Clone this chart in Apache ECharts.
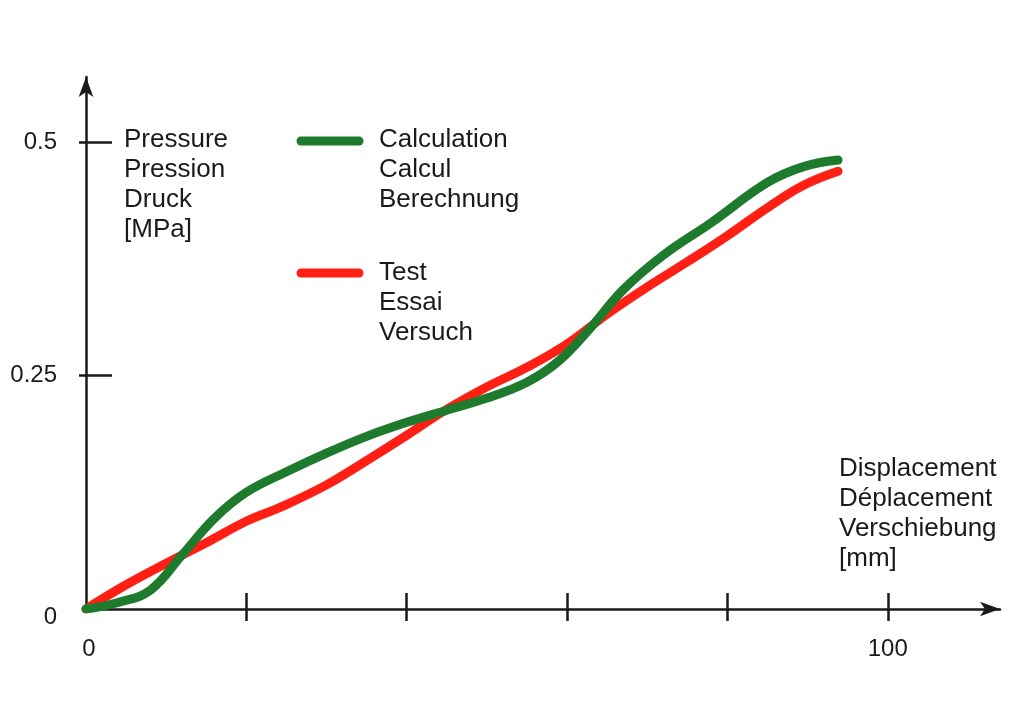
<!DOCTYPE html>
<html>
<head>
<meta charset="utf-8">
<script src="https://cdn.jsdelivr.net/npm/echarts@6/dist/echarts.min.js"></script>
<style>
  html, body { margin: 0; padding: 0; background: #fff; }
  #chart { width: 1024px; height: 712px; }
</style>
</head>
<body>
<div id="chart"></div>
<script>
// Calculation (green) curve, displacement [mm] / pressure [MPa]
var calcX = [0, 4, 8, 12, 16, 20, 25, 30, 35, 40, 45, 50, 55, 59, 63, 67, 72, 78, 85, 89.5, 93.8];
var calcY = [0, 0.007, 0.020, 0.058, 0.097, 0.125, 0.147, 0.167, 0.185, 0.200, 0.213, 0.226, 0.243, 0.266, 0.302, 0.342, 0.379, 0.414, 0.457, 0.474, 0.481];

// Test (red) curve
var testX = [0, 5, 10, 15, 20, 24.5, 30, 35, 40, 45, 50, 55, 60, 65, 70, 75, 80, 85, 89.5, 93.8];
var testY = [0, 0.026, 0.049, 0.071, 0.094, 0.110, 0.133, 0.159, 0.186, 0.214, 0.238, 0.259, 0.284, 0.316, 0.345, 0.372, 0.400, 0.430, 0.454, 0.469];

var xTicks = [20, 40, 60, 80, 100];
var xLabels = [0, 100];
var yTicks = [0.25, 0.5];
var yLabels = [0, 0.25, 0.5];

var yTitle = ['Pressure', 'Pression', 'Druck', '[MPa]'];
var xTitle = ['Displacement', 'Déplacement', 'Verschiebung', '[mm]'];
var calcName = ['Calculation', 'Calcul', 'Berechnung'];
var testName = ['Test', 'Essai', 'Versuch'];

var GREEN = '#1e7a2c';
var RED = '#ff1f14';
var INK = '#1a1a1a';
var FONT = '"Liberation Sans", Arial, sans-serif';

function pairs(xs, ys) {
    var out = [];
    for (var i = 0; i < xs.length; i++) out.push([xs[i], ys[i]]);
    return out;
}

var chart = echarts.init(document.getElementById('chart'));

var xBase = {type: 'value', min: 0, max: 114, position: 'bottom', splitLine: {show: false}};
var yBase = {type: 'value', min: 0, max: 0.57, position: 'left', splitLine: {show: false}};

chart.setOption({
    backgroundColor: '#fff',
    animation: false,
    textStyle: {fontFamily: FONT},
    grid: {left: 86, right: 24, top: 77, bottom: 103},
    xAxis: [
        Object.assign({}, xBase, {
            axisLine: {show: true, symbol: ['none', 'arrow'], symbolSize: [11, 20], symbolOffset: [0, 0],
                lineStyle: {color: INK, width: 2.5}},
            axisTick: {show: true, inside: true, length: 16, customValues: xTicks,
                lineStyle: {color: INK, width: 2.5}},
            axisLabel: {show: true, customValues: xLabels, margin: 28,
                color: INK, fontSize: 24, fontFamily: FONT,
                formatter: function (v) { return v === 0 ? '{z|0}' : String(v); },
                rich: {z: {fontSize: 24, color: INK, fontFamily: FONT, padding: [0, 0, 0, 6]}}}
        }),
        Object.assign({}, xBase, {
            axisLine: {show: false},
            axisTick: {show: true, inside: false, length: 12, customValues: xTicks,
                lineStyle: {color: INK, width: 2.5}},
            axisLabel: {show: false}
        })
    ],
    yAxis: [
        Object.assign({}, yBase, {
            axisLine: {show: true, symbol: ['none', 'arrow'], symbolSize: [11, 20], symbolOffset: [0, 0],
                lineStyle: {color: INK, width: 2.5}},
            axisTick: {show: true, inside: true, length: 26, customValues: yTicks,
                lineStyle: {color: INK, width: 2.5}},
            axisLabel: {show: true, customValues: yLabels, margin: 29,
                color: INK, fontSize: 24, fontFamily: FONT,
                formatter: function (v) { return v === 0 ? '{z|0}' : String(v); },
                rich: {z: {fontSize: 24, color: INK, fontFamily: FONT, padding: [16, 0, 0, 0]}}}
        }),
        Object.assign({}, yBase, {
            axisLine: {show: false},
            axisTick: {show: true, inside: false, length: 7, customValues: yTicks,
                lineStyle: {color: INK, width: 2.5}},
            axisLabel: {show: false}
        })
    ],
    series: [
        {
            name: 'Test', type: 'line', smooth: 0.4, showSymbol: false,
            xAxisIndex: 0, yAxisIndex: 0,
            lineStyle: {color: RED, width: 9, cap: 'round', join: 'round'},
            data: pairs(testX, testY)
        },
        {
            name: 'Calculation', type: 'line', smooth: 0.4, showSymbol: false,
            xAxisIndex: 0, yAxisIndex: 0,
            lineStyle: {color: GREEN, width: 9, cap: 'round', join: 'round'},
            data: pairs(calcX, calcY)
        }
    ],
    graphic: [
        {type: 'text', left: 124, top: 125,
            style: {text: yTitle.join('\n'), font: '26px ' + FONT, lineHeight: 30, fill: INK}},
        {type: 'text', left: 839, top: 454,
            style: {text: xTitle.join('\n'), font: '26px ' + FONT, lineHeight: 30, fill: INK}},
        {type: 'line', shape: {x1: 301, y1: 141, x2: 359, y2: 141},
            style: {stroke: GREEN, lineWidth: 9, lineCap: 'round'}},
        {type: 'text', left: 379, top: 125,
            style: {text: calcName.join('\n'), font: '26px ' + FONT, lineHeight: 30, fill: INK}},
        {type: 'line', shape: {x1: 301, y1: 273, x2: 359, y2: 273},
            style: {stroke: RED, lineWidth: 9, lineCap: 'round'}},
        {type: 'text', left: 379, top: 258,
            style: {text: testName.join('\n'), font: '26px ' + FONT, lineHeight: 30, fill: INK}}
    ]
});
</script>
</body>
</html>
